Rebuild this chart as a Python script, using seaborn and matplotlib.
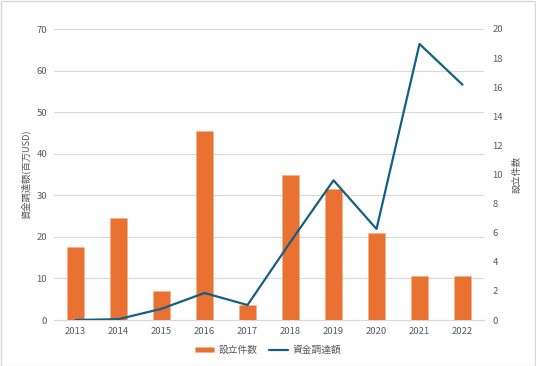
import matplotlib
matplotlib.use("Agg")
import matplotlib.pyplot as plt
import seaborn as sns
import pandas as pd
from matplotlib.patches import Rectangle, Patch
from matplotlib.lines import Line2D

sns.set_theme(style="white")
plt.rcParams['font.family'] = ['Noto Sans CJK JP', 'DejaVu Sans']

years = ["2013", "2014", "2015", "2016", "2017", "2018", "2019", "2020", "2021", "2022"]
counts = [5, 7, 2, 13, 1, 10, 9, 6, 3, 3]                 # 設立件数 (right axis)
funding = [0, 0.2, 2.7, 6.5, 3.6, 18.8, 33.6, 21.9, 66.4, 56.6]  # 資金調達額 (left axis)
bar_label = "設立件数"
line_label = "資金調達額"
left_title = "資金調達額(百万USD)"
right_title = "設立件数"

df = pd.DataFrame({"year": years, "count": counts, "funding": funding})

ORANGE = "#E97132"
BLUE = "#156082"
TXT = "#595959"
GRID = "#D9D9D9"

fig = plt.figure(figsize=(5.36, 3.66), dpi=100)
rect = [54/536, 1-320/366, 430/536, 291/366]
ax = fig.add_axes(rect)
ax2 = ax.twinx()
ax3 = ax.twinx()

# grid axis (left, funding)
ax.set_ylim(0, 70)
ax.set_yticks(range(0, 71, 10))
ax.grid(axis="y", color=GRID, linewidth=0.8)

# bars (right, counts)
sns.barplot(data=df, x="year", y="count", color=ORANGE, width=0.39, ax=ax2,
            saturation=1, edgecolor="#F4B183", linewidth=0.5)
ax2.set_ylim(0, 20)
ax2.set_yticks(range(0, 21, 2))

# line (funding) on top
sns.lineplot(x=list(range(len(years))), y=funding, color=BLUE, linewidth=1.6, ax=ax3)
ax3.set_ylim(0, 70)
ax3.set_yticks([])
ax3.set_ylabel("")

ax.set_xlim(-0.5, 9.5)
ax.set_xticks(range(len(years)))
ax.set_xticklabels(years)
ax2.set_xlabel("")
ax3.set_xlabel("")
ax2.tick_params(axis="x", labelbottom=False)
ax3.tick_params(axis="x", labelbottom=False)

for a in (ax, ax2, ax3):
    for s in a.spines.values():
        s.set_visible(False)
ax.spines["bottom"].set_visible(True)
ax.spines["bottom"].set_color(GRID)
ax.spines["bottom"].set_linewidth(0.8)

ax.tick_params(axis="y", length=0, labelsize=6.8, labelcolor=TXT, pad=5)
ax.tick_params(axis="x", length=0, labelsize=6.8, labelcolor=TXT, pad=5)
ax2.tick_params(axis="y", length=0, labelsize=6.8, labelcolor=TXT, pad=6)

ax.set_ylabel(left_title, fontsize=6.7, color=TXT, labelpad=4)
ax2.set_ylabel(right_title, fontsize=6.7, color=TXT, labelpad=7)

handles = [Patch(facecolor=ORANGE, edgecolor="#F4B183", linewidth=0.5),
           Line2D([0], [0], color=BLUE, linewidth=1.6)]
fig.legend(handles, [bar_label, line_label], loc="center", bbox_to_anchor=(0.5, 1-350/366),
           ncol=2, frameon=False, fontsize=7, labelcolor=TXT, handlelength=2.0,
           handleheight=0.5, columnspacing=1.2, handletextpad=0.4)

fig.patches.append(Rectangle((0.001, 0.001), 0.997, 0.996, transform=fig.transFigure,
                             fill=False, edgecolor=GRID, linewidth=1))

fig.savefig("out.png", dpi=100, facecolor="white")
